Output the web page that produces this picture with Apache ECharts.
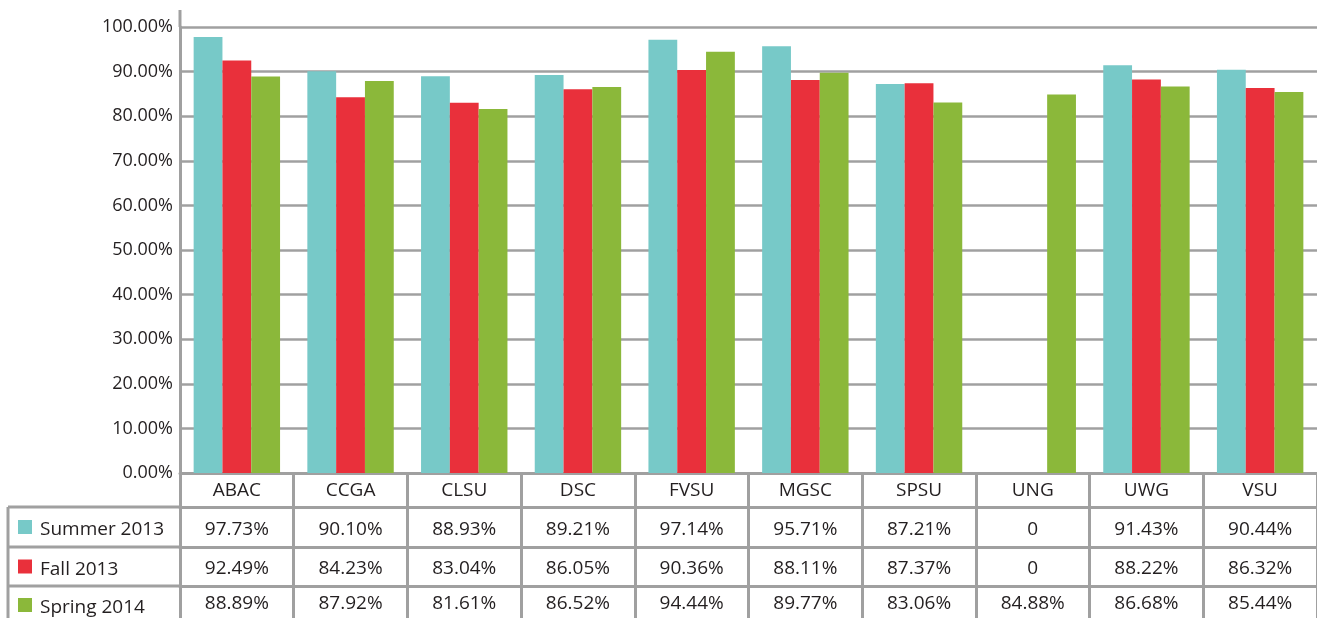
<!DOCTYPE html>
<html>
<head>
<meta charset="utf-8">
<script src="https://cdn.jsdelivr.net/npm/echarts@6/dist/echarts.min.js"></script>
<style>
    html, body { margin: 0; padding: 0; background: #fff; }
    #chart { width: 1317px; height: 618px; }
</style>
</head>
<body>
<div id="chart"></div>
<script>
const categories = ["ABAC", "CCGA", "CLSU", "DSC", "FVSU", "MGSC", "SPSU", "UNG", "UWG", "VSU"];
const seriesNames = ["Summer 2013", "Fall 2013", "Spring 2014"];
const summer2013 = [97.73, 90.10, 88.93, 89.21, 97.14, 95.71, 87.21, 0, 91.43, 90.44];
const fall2013 = [92.49, 84.23, 83.04, 86.05, 90.36, 88.11, 87.37, 0, 88.22, 86.32];
const spring2014 = [88.89, 87.92, 81.61, 86.52, 94.44, 89.77, 83.06, 84.88, 86.68, 85.44];
const yTicks = [0, 10, 20, 30, 40, 50, 60, 70, 80, 90, 100];

const colors = ["#77c9c8", "#e9303b", "#8bb83a"];
const rows = [summer2013, fall2013, spring2014];
const lineColor = "#a0a0a0";
const textColor = "#231f20";
const font = "'Open Sans', sans-serif";

// table layout (pixels)
const gridLeft = 180;
const gridTop = 27;
const baseY = 473;
const rowTops = [507, 547, 586];
const rowMargins = [13, 12, 8];
const nameShift = [3, 3, 2];

const fmt = (v) => (v === 0 ? "0" : v.toFixed(2) + "%");

const chart = echarts.init(document.getElementById("chart"));

const tickStyle = (len) => ({
    show: true,
    interval: 0,
    alignWithLabel: false,
    inside: false,
    length: len,
    lineStyle: { color: lineColor, width: 3 },
});

const xAxes = [
    {
        type: "category",
        data: categories,
        position: "bottom",
        boundaryGap: true,
        axisLine: { show: true, onZero: false, lineStyle: { color: lineColor, width: 3 } },
        axisTick: tickStyle(rowTops[0] - baseY),
        axisLabel: { interval: 0, margin: 8, color: textColor, fontSize: 19, fontFamily: font },
    },
];
rows.forEach((vals, k) => {
    xAxes.push({
        type: "category",
        data: categories,
        position: "bottom",
        boundaryGap: true,
        offset: rowTops[k] - baseY,
        axisLine: { show: true, onZero: false, lineStyle: { color: lineColor, width: 3 } },
        axisTick: tickStyle(k < 2 ? rowTops[k + 1] - rowTops[k] : 40),
        axisLabel: {
            interval: 0,
            margin: rowMargins[k],
            color: textColor,
            fontSize: 19,
            fontFamily: font,
            formatter: (v, i) => fmt(vals[i]),
        },
    });
});

// left column of the table: series names with colour keys
const graphics = [
    { type: "line", shape: { x1: gridLeft, y1: 10, x2: gridLeft, y2: gridTop }, style: { stroke: lineColor, lineWidth: 3 } },
    { type: "line", shape: { x1: 8, y1: rowTops[0], x2: 8, y2: 618 }, style: { stroke: lineColor, lineWidth: 3 } },
];
seriesNames.forEach((name, k) => {
    const top = rowTops[k];
    const mid = top + (k < 2 ? (rowTops[k + 1] - top) / 2 : 20);
    graphics.push({ type: "line", shape: { x1: 8, y1: top, x2: gridLeft, y2: top }, style: { stroke: lineColor, lineWidth: 3 } });
    graphics.push({ type: "rect", shape: { x: 18, y: mid - 7 + (k === 2 ? -1 : 0), width: 14, height: 14 }, style: { fill: colors[k] } });
    graphics.push({
        type: "text",
        x: 40,
        y: mid + nameShift[k],
        style: { text: name, fill: textColor, font: "19px " + font, verticalAlign: "middle", align: "left" },
    });
});

const option = {
    animation: false,
    backgroundColor: "#fff",
    color: colors,
    grid: { left: gridLeft, right: 0, top: gridTop, bottom: 618 - baseY },
    xAxis: xAxes,
    yAxis: {
        type: "value",
        min: yTicks[0],
        max: yTicks[yTicks.length - 1],
        interval: yTicks[1] - yTicks[0],
        axisLine: { show: true, lineStyle: { color: lineColor, width: 3 } },
        axisTick: { show: false },
        axisLabel: {
            margin: 7,
            color: textColor,
            fontSize: 18,
            fontFamily: font,
            formatter: (v) => v.toFixed(2) + "%",
        },
        splitLine: { lineStyle: { color: lineColor, width: 2.5 } },
    },
    series: rows.map((vals, k) => ({
        name: seriesNames[k],
        type: "bar",
        data: vals,
        barGap: 0,
        barCategoryGap: "24%",
        itemStyle: { color: colors[k] },
    })),
    graphic: graphics,
};
chart.setOption(option);
</script>
</body>
</html>
